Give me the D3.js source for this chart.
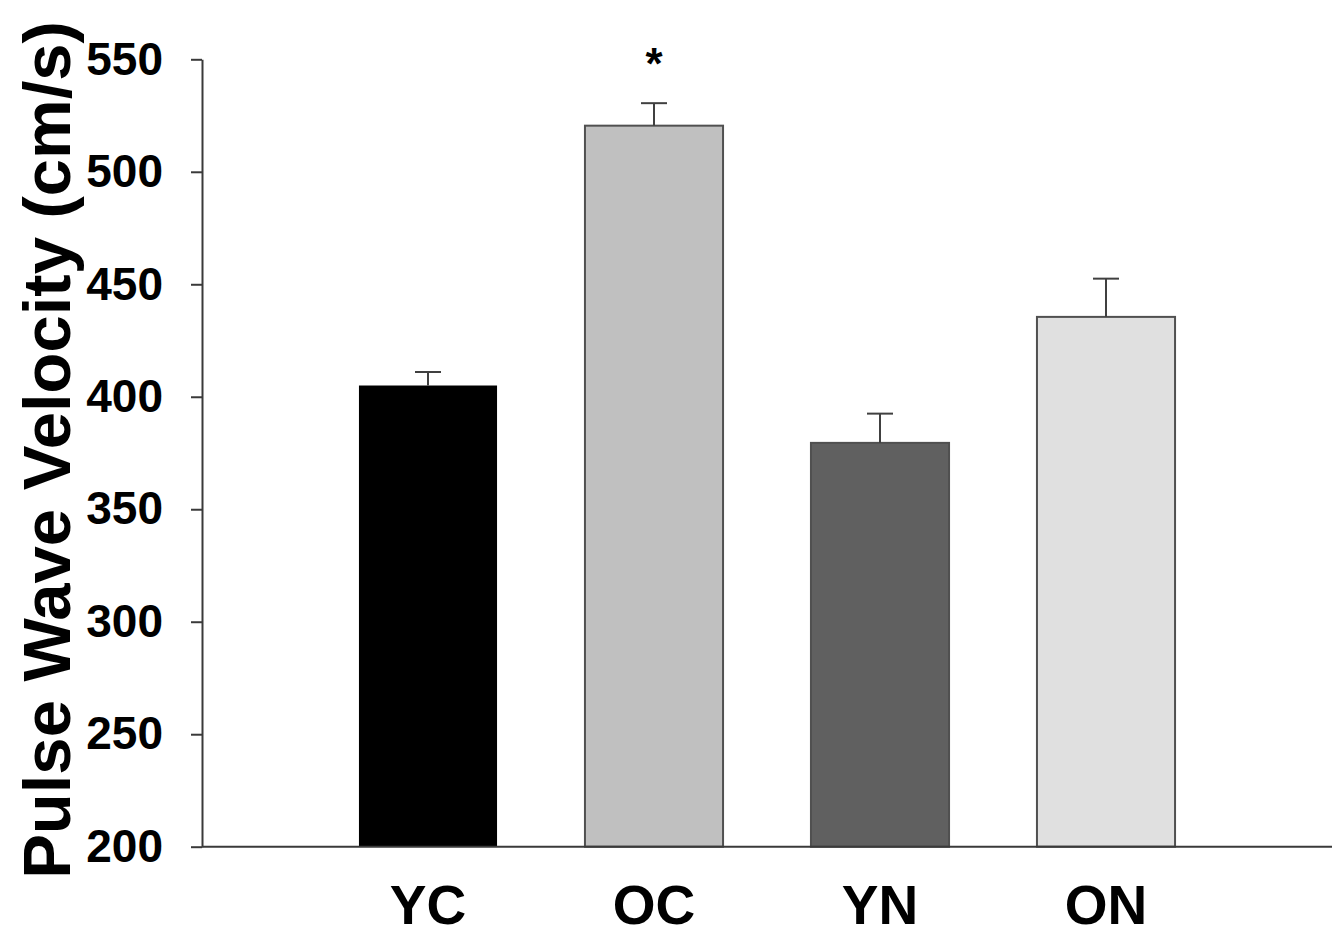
<!DOCTYPE html>
<html>
<head>
<meta charset="utf-8">
<script src="https://cdn.jsdelivr.net/npm/d3@7"></script>
<style>
  html, body { margin: 0; padding: 0; background: #fff; }
  svg { display: block; }
</style>
</head>
<body>
<div id="chart"></div>
<script>
const groups = ['YC', 'OC', 'YN', 'ON'];
const means = [405, 520.5, 379.5, 435.5];
const errors = [6, 10, 13, 17];
const fills = ['#000000', '#c0c0c0', '#606060', '#e0e0e0'];
const yTicks = [200, 250, 300, 350, 400, 450, 500, 550];
const marks = ['', '*', '', ''];

const width = 1339;
const height = 935;
const axisX = 202;
const axisRight = 1332;

const svg = d3.select('#chart').append('svg')
  .attr('width', width)
  .attr('height', height);

const y = d3.scaleLinear().domain([200, 550]).range([846.7, 59.3]);

// bars sit on every 226 px step from the axis; band scale covers the four slots
const x = d3.scaleBand()
  .domain(groups)
  .range([axisX + 113, axisRight - 113])
  .paddingInner(0.389)
  .paddingOuter(0.1945);

const font = '"Liberation Sans", Arial, sans-serif';
const axisColor = '#3a3a3a';

// bars
svg.selectAll('rect.bar')
  .data(groups)
  .join('rect')
  .attr('class', 'bar')
  .attr('x', d => x(d))
  .attr('y', (d, i) => y(means[i]))
  .attr('width', x.bandwidth())
  .attr('height', (d, i) => y(200) - y(means[i]))
  .attr('fill', (d, i) => fills[i])
  .attr('stroke', (d, i) => i === 0 ? 'none' : '#505050')
  .attr('stroke-width', 2);

// error bars (upper only)
const eb = svg.selectAll('g.err')
  .data(groups)
  .join('g')
  .attr('class', 'err')
  .attr('stroke', '#404040')
  .attr('stroke-width', 2);

eb.append('line')
  .attr('x1', d => x(d) + x.bandwidth() / 2)
  .attr('x2', d => x(d) + x.bandwidth() / 2)
  .attr('y1', (d, i) => y(means[i]))
  .attr('y2', (d, i) => y(means[i] + errors[i]));

eb.append('line')
  .attr('x1', d => x(d) + x.bandwidth() / 2 - 13)
  .attr('x2', d => x(d) + x.bandwidth() / 2 + 13)
  .attr('y1', (d, i) => y(means[i] + errors[i]))
  .attr('y2', (d, i) => y(means[i] + errors[i]));

// significance marks
svg.selectAll('text.mark')
  .data(groups)
  .join('text')
  .attr('class', 'mark')
  .attr('x', d => x(d) + x.bandwidth() / 2)
  .attr('y', (d, i) => y(means[i] + errors[i]) - 24)
  .attr('text-anchor', 'middle')
  .attr('font-family', font)
  .attr('font-weight', 'bold')
  .attr('font-size', 44)
  .attr('fill', '#000')
  .text((d, i) => marks[i]);

// y axis
const yAxis = svg.append('g')
  .attr('transform', `translate(${axisX},0)`)
  .call(d3.axisLeft(y).tickValues(yTicks).tickSize(11).tickPadding(28).tickSizeOuter(0));

yAxis.select('.domain').attr('stroke', axisColor).attr('stroke-width', 2);
yAxis.selectAll('.tick line').attr('stroke', axisColor).attr('stroke-width', 2);
yAxis.selectAll('.tick text')
  .attr('font-family', font)
  .attr('font-weight', 'bold')
  .attr('font-size', 46)
  .attr('fill', '#000');

// baseline
svg.append('line')
  .attr('x1', axisX)
  .attr('x2', axisRight)
  .attr('y1', y(200))
  .attr('y2', y(200))
  .attr('stroke', axisColor)
  .attr('stroke-width', 2);

// category labels
svg.selectAll('text.cat')
  .data(groups)
  .join('text')
  .attr('class', 'cat')
  .attr('x', d => x(d) + x.bandwidth() / 2)
  .attr('y', 924)
  .attr('text-anchor', 'middle')
  .attr('font-family', font)
  .attr('font-weight', 'bold')
  .attr('font-size', 55)
  .attr('fill', '#000')
  .text(d => d);

// y title
svg.append('text')
  .attr('transform', 'translate(70,450) rotate(-90)')
  .attr('text-anchor', 'middle')
  .attr('font-family', font)
  .attr('font-weight', 'bold')
  .attr('font-size', 67)
  .attr('fill', '#000')
  .text('Pulse Wave Velocity (cm/s)');
</script>
</body>
</html>
